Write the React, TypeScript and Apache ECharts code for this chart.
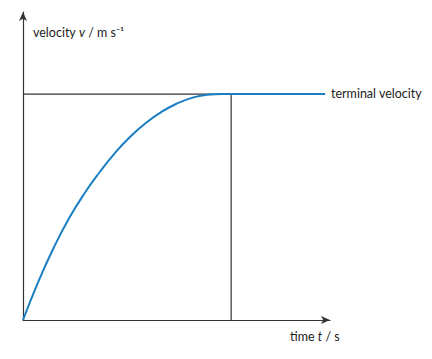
import React, { useEffect, useRef } from "react";
import * as echarts from "echarts";

// time (arbitrary units, axis 0..10) and velocity (terminal velocity = 1)
const curveT = [0, 0.5, 1.0, 1.5, 2.0, 2.5, 3.0, 3.5, 4.0, 4.5, 5.0, 5.5, 6.0, 6.5, 6.78, 9.84];
const curveV = [0, 0.17, 0.32, 0.45, 0.56, 0.655, 0.74, 0.812, 0.872, 0.92, 0.957, 0.983, 0.997, 1.0, 1.0, 1.0];
const terminalT = 6.78;
const terminalV = 1.0;
const xMax = 10;
const yMax = 1.363;

const FONT = "Lato, 'Open Sans', sans-serif";

export default function App() {
  const ref = useRef<HTMLDivElement>(null);
  useEffect(() => {
    const chart = echarts.init(ref.current!, undefined, { renderer: "svg" });
    const curve = curveT.map((t, i) => [t, curveV[i]]);
    const axis = {
      type: "value",
      min: 0,
      axisLine: { show: true, lineStyle: { color: "#333", width: 1.2 }, symbol: ["none", "arrow"], symbolSize: [6, 9] },
      axisTick: { show: false },
      axisLabel: { show: false },
      splitLine: { show: false },
    };
    chart.setOption({
      animation: false,
      grid: { left: 23, right: 102, top: 12, bottom: 39 },
      xAxis: { ...axis, max: xMax },
      yAxis: { ...axis, max: yMax },
      series: [
        {
          type: "line",
          data: [[0, terminalV], [terminalT, terminalV]],
          symbol: "none",
          lineStyle: { color: "#333", width: 1.2 },
          z: 1,
        },
        {
          type: "line",
          data: [[terminalT, 0], [terminalT, terminalV]],
          symbol: "none",
          lineStyle: { color: "#333", width: 1.2 },
          z: 1,
        },
        {
          type: "line",
          data: curve,
          smooth: true,
          symbol: "none",
          lineStyle: { color: "#1a7ec3", width: 2 },
          z: 3,
        },
      ],
      graphic: [
        {
          type: "text",
          left: 33,
          top: 26,
          style: {
            text: "{a|velocity }{i|v}{a| / m s⁻¹}",
            rich: {
              a: { fontFamily: FONT, fontSize: 12.5, fill: "#222" },
              i: { fontFamily: FONT, fontSize: 12.5, fontStyle: "italic", fill: "#222" },
            },
          },
        },
        {
          type: "text",
          left: 331,
          top: 87,
          style: { text: "terminal velocity", fontFamily: FONT, fontSize: 12.5, fill: "#222" },
        },
        {
          type: "text",
          left: 290,
          top: 330,
          style: {
            text: "{a|time }{i|t}{a| / s}",
            rich: {
              a: { fontFamily: FONT, fontSize: 12.5, fill: "#222" },
              i: { fontFamily: FONT, fontSize: 12.5, fontStyle: "italic", fill: "#222" },
            },
          },
        },
      ],
    });
    return () => chart.dispose();
  }, []);
  return <div ref={ref} style={{ width: 432, height: 359, position: "absolute", left: 0, top: 0 }} />;
}
